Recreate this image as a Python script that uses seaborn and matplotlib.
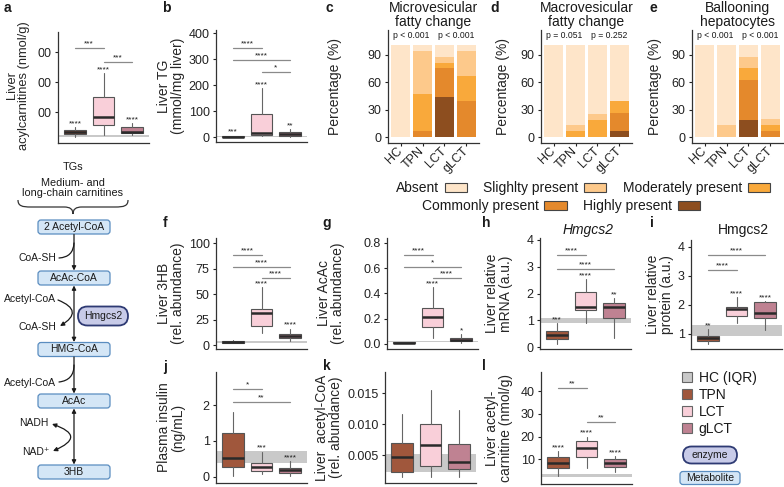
import numpy as np
import pandas as pd
import seaborn as sns
import matplotlib.pyplot as plt
from matplotlib.patches import FancyBboxPatch, FancyArrowPatch, Patch, PathPatch
from matplotlib.path import Path

sns.set_style("ticks")
plt.rcParams["font.family"] = ["Liberation Sans", "DejaVu Sans"]
plt.rcParams["axes.edgecolor"] = "#333333"
plt.rcParams["axes.linewidth"] = 0.9
plt.rcParams["text.color"] = "#1a1a1a"

# ---------------- data ----------------
groups3 = ["TPN", "LCT", "gLCT"]
group_colors = ["#A0573C", "#F9CFD9", "#BF8292"]
hc_color = "#C9C9C9"

# box stats per group: [lower whisker, Q1, median, Q3, upper whisker]
acyl_stats = [[17, 27, 33, 40, 50], [23, 57, 84, 150, 230], [23, 30, 33, 50, 63]]
acyl_hc = [17, 22]
acyl_stars = ["****", "****", "****"]
acyl_sig = [(0, 1, 313, "***"), (1, 2, 267, "***")]

tg_stats = [[0, 1, 2, 4, 6], [3, 8, 15, 88, 188], [1, 5, 11, 19, 30]]
tg_hc = [0, 4]
tg_stars = ["***", "****", "**"]
tg_sig = [(0, 1, 342, "****"), (0, 2, 296, "****"), (1, 2, 250, "*")]

hb_stats = [[1.5, 2, 3, 4, 4.5], [12, 19, 31, 35, 57], [4, 6.5, 9, 11, 16]]
hb_hc = [2, 4]
hb_stars = ["", "****", "****"]
hb_sig = [(0, 1, 88, "****"), (0, 2, 76.5, "****"), (1, 2, 65.7, "****")]

acac_stats = [[0.004, 0.006, 0.01, 0.015, 0.018], [0.047, 0.134, 0.213, 0.285, 0.45],
              [0.005, 0.02, 0.035, 0.047, 0.079]]
acac_hc = [0.015, 0.025]
acac_stars = ["", "****", "*"]
acac_sig = [(0, 1, 0.70, "****"), (0, 2, 0.61, "*"), (1, 2, 0.52, "****")]

mrna_stats = [[0.1, 0.3, 0.45, 0.6, 0.9], [0.9, 1.38, 1.51, 2.06, 2.54], [0.33, 1.08, 1.49, 1.64, 1.83]]
mrna_hc = [0.9, 1.08]
mrna_stars = ["***", "****", "**"]
mrna_sig = [(0, 1, 3.44, "****"), (0, 2, 2.92, "****")]

prot_stats = [[0.65, 0.75, 0.87, 0.93, 1.17], [1.38, 1.62, 1.87, 1.93, 2.27], [1.13, 1.55, 1.72, 2.1, 2.12]]
prot_hc = [0.93, 1.31]
prot_stars = ["**", "****", "****"]
prot_sig = [(0, 2, 3.72, "****"), (0, 1, 3.2, "****")]

ins_stats = [[0.03, 0.28, 0.53, 1.22, 1.8], [0.07, 0.17, 0.28, 0.4, 0.7], [0.02, 0.12, 0.18, 0.26, 0.43]]
ins_hc = [0.4, 0.73]
ins_stars = ["", "***", "****"]
ins_sig = [(0, 1, 2.44, "*"), (0, 2, 2.08, "**")]

acoa_stats = [[0.0015, 0.0023, 0.0047, 0.0069, 0.0116], [0.0015, 0.0032, 0.0066, 0.0100, 0.0155],
              [0.0015, 0.0027, 0.0039, 0.0068, 0.0123]]
acoa_hc = [0.0023, 0.0052]
acoa_stars = ["", "", ""]
acoa_sig = []

acar_stats = [[2.6, 6.2, 8.4, 11, 13.5], [6, 11.2, 15, 18, 20], [4.4, 6.7, 8.5, 10, 11.3]]
acar_hc = [2.2, 3.6]
acar_stars = ["****", "****", "****"]
acar_sig = [(0, 1, 41.4, "**"), (1, 2, 26.4, "**")]

# histology scores (% of animals), bottom -> top: highly, commonly, moderately, slightly, absent
groups4 = ["HC", "TPN", "LCT", "gLCT"]
levels = ["Highly present", "Commonly present", "Moderately present", "Slighlty present", "Absent"]
level_colors = ["#8D4E1F", "#E4892C", "#F9A93B", "#FDC98B", "#FEE5C9"]

micro_highly = [0, 0, 43.75, 0]
micro_commonly = [0, 6.67, 31.25, 40]
micro_moderately = [0, 40, 6.25, 26.67]
micro_slightly = [0, 46.67, 6.25, 26.67]
micro_absent = [100, 6.67, 12.5, 6.67]
micro_p = ["p < 0.001", "p < 0.001"]

macro_highly = [0, 0, 0, 6.67]
macro_commonly = [0, 0, 0, 20]
macro_moderately = [0, 6.67, 18.75, 13.33]
macro_slightly = [0, 6.67, 6.25, 0]
macro_absent = [100, 86.67, 75, 60]
macro_p = ["p = 0.051", "p = 0.252"]

ball_highly = [0, 0, 18.75, 0]
ball_commonly = [0, 0, 43.75, 6.67]
ball_moderately = [0, 0, 12.5, 6.67]
ball_slightly = [0, 13.33, 12.5, 6.67]
ball_absent = [100, 86.67, 12.5, 80]
ball_p = ["p < 0.001", "p < 0.001"]

# ---------------- figure ----------------
W, H = 784, 487
fig = plt.figure(figsize=(W / 100, H / 100), dpi=100)


def add_ax(x0, y0, x1, y1):
    return fig.add_axes([x0 / W, 1 - y1 / H, (x1 - x0) / W, (y1 - y0) / H])


def finish(ax, x0, x1, label_right, label, ly=0.5, lsize=10):
    sns.despine(ax=ax)
    ax.tick_params(axis="both", length=2.5, width=0.8, pad=2, labelsize=9, colors="#222222")
    ax.set_ylabel(label, fontsize=lsize, linespacing=1.0)
    ax.yaxis.set_label_coords((label_right - x0) / (x1 - x0), ly)


def box_panel(c0, top, bottom, stats, hc, stars, sig, ylim, yticks, yticklabels, label_right, label,
              ly=0.5, lsize=10):
    x0 = c0 - 0.6 * 28.5
    x1 = x0 + 3.2 * 28.5
    ax = add_ax(x0, top, x1, bottom)
    ax.axhspan(hc[0], hc[1], color=hc_color, lw=0, zorder=0)
    bstats = [dict(whislo=s[0], q1=s[1], med=s[2], q3=s[3], whishi=s[4]) for s in stats]
    parts = ax.bxp(bstats, positions=range(3), widths=0.75, patch_artist=True, showfliers=False,
                   showcaps=False, boxprops=dict(edgecolor="#555555", lw=0.8),
                   whiskerprops=dict(color="#666666", lw=0.8),
                   medianprops=dict(color="#2a2a2a", lw=1.8))
    for patch, col in zip(parts["boxes"], group_colors):
        patch.set_facecolor(col)
    for i, (s, st) in enumerate(zip(stats, stars)):
        if st:
            ax.annotate(st, (i, s[4]), xytext=(0, 0), textcoords="offset points",
                        ha="center", va="bottom", fontsize=6)
    for a, b, y, lab in sig:
        ax.plot([a, b], [y, y], color="#8a8a8a", lw=0.9)
        ax.annotate(lab, ((a + b) / 2, y), xytext=(0, 0.5), textcoords="offset points",
                    ha="center", va="bottom", fontsize=6)
    ax.set_xlim(-0.6, 2.6)
    ax.set_ylim(ylim)
    ax.set_xticks([])
    ax.set_yticks(yticks)
    if yticklabels is not None:
        ax.set_yticklabels(yticklabels)
    finish(ax, x0, x1, label_right, label, ly, lsize)
    return ax


def bar_panel(x0, parts, pvals, title, label_right):
    x1 = x0 + 91
    ax = add_ax(x0, 30, x1, 143)
    cum = np.cumsum(np.array(parts), axis=0)
    for k in reversed(range(len(levels))):
        df = pd.DataFrame({"group": groups4, "value": cum[k]})
        sns.barplot(data=df, x="group", y="value", color=level_colors[k], saturation=1,
                    width=0.9, errorbar=None, linewidth=0, ax=ax)
    ax.set_xlim(-0.57, 3.57)
    ax.set_ylim(-6, 116.6)
    ax.set_yticks([0, 30, 60, 90])
    ax.set_xticks(range(4))
    ax.set_xticklabels(groups4, rotation=45, ha="right", va="center", rotation_mode="anchor")
    ax.set_xlabel("")
    ax.text(0.5, 111, pvals[0], ha="center", va="center", fontsize=6.2)
    ax.text(2.55, 111, pvals[1], ha="center", va="center", fontsize=6.2)
    ax.set_title(title, fontsize=10, linespacing=0.95, pad=3)
    finish(ax, x0, x1, label_right, "Percentage (%)")
    return ax


# pathway / annotation layer (pixel coordinates)
ov = fig.add_axes([0, 0, 1, 1])
ov.set_xlim(0, W)
ov.set_ylim(H, 0)
ov.axis("off")

# top row
box_panel(75, 32, 143, acyl_stats, acyl_hc, acyl_stars, acyl_sig, (-3.3, 367), [100, 200, 300],
          ["00", "00", "00"], 30, "Liver\nacylcarnitines (nmol/g)", ly=0.52, lsize=9.3)
box_panel(233, 30, 142, tg_stats, tg_hc, tg_stars, tg_sig, (-19, 412), [0, 100, 200, 300, 400],
          None, 185, "Liver TG\n(mmol/mg liver)")

bar_panel(388, [micro_highly, micro_commonly, micro_moderately, micro_slightly, micro_absent],
          micro_p, "Microvesicular\nfatty change", 342)
bar_panel(541, [macro_highly, macro_commonly, macro_moderately, macro_slightly, macro_absent],
          macro_p, "Macrovesicular\nfatty change", 510)
bar_panel(692, [ball_highly, ball_commonly, ball_moderately, ball_slightly, ball_absent],
          ball_p, "Ballooning\nhepatocytes", 662)

# middle row
box_panel(233, 238, 349, hb_stats, hb_hc, hb_stars, hb_sig, (-3.9, 105), [0, 25, 50, 75, 100],
          None, 185, "Liver 3HB\n(rel. abundance)")
box_panel(404, 238, 349, acac_stats, acac_hc, acac_stars, acac_sig, (-0.04, 0.838),
          [0, 0.2, 0.4, 0.6, 0.8], ["0.0", "0.2", "0.4", "0.6", "0.8"], 345, "Liver AcAc\n(rel. abundance)")
box_panel(557, 238, 349, mrna_stats, mrna_hc, mrna_stars, mrna_sig, (-0.07, 4.07), [0, 1, 2, 3, 4],
          None, 513, "Liver relative\nmRNA (a.u.)")
box_panel(708, 240, 349, prot_stats, prot_hc, prot_stars, prot_sig, (0.48, 4.24), [1, 2, 3, 4],
          None, 674, "Liver relative\nprotein (a.u.)")

# bottom row
box_panel(233, 372, 483, ins_stats, ins_hc, ins_stars, ins_sig, (-0.17, 2.92), [0, 1, 2],
          None, 185, "Plasma insulin\n(ng/mL)")
box_panel(402, 372, 483, acoa_stats, acoa_hc, acoa_stars, acoa_sig, (0.00048, 0.0184),
          [0.005, 0.010, 0.015], ["0.005", "0.010", "0.015"], 343, "Liver  acetyl-CoA\n(rel. abundance)")
box_panel(558, 372, 484, acar_stats, acar_hc, acar_stars, acar_sig, (-0.9, 48.5), [10, 20, 30, 40],
          None, 513, "Liver acetyl-\ncarnitine (nmol/g)")

# panel letters and titles
for letter, (x, y) in zip("abcdefghijkl", [(4, 8), (162, 8), (325, 8), (490, 8), (650, 8), (163, 223),
                                           (322, 223), (482, 223), (650, 223), (163, 367),
                                           (323, 366), (482, 366)]):
    fig.text(x / W, 1 - y / H, letter, fontsize=10, fontweight="bold", va="center", ha="left")
fig.text(588 / W, 1 - 230 / H, "Hmgcs2", fontsize=10, style="italic", ha="center", va="center")
fig.text(743 / W, 1 - 230 / H, "Hmgcs2", fontsize=10, ha="center", va="center")

# histology legend (two centred rows)
lev_handles = [Patch(facecolor=c, edgecolor="#444444", lw=0.8) for c in level_colors]
row1 = [4, 3, 2]
row2 = [1, 0]
fig.legend([lev_handles[i] for i in row1], [levels[i] for i in row1], loc="center",
           bbox_to_anchor=(583 / W, 1 - 188 / H), ncol=3, frameon=False, markerfirst=False,
           fontsize=10, handlelength=1.6, handleheight=0.6, columnspacing=1.2, handletextpad=0.4,
           borderpad=0)
fig.legend([lev_handles[i] for i in row2], [levels[i] for i in row2], loc="center",
           bbox_to_anchor=(561 / W, 1 - 206 / H), ncol=2, frameon=False, markerfirst=False,
           fontsize=10, handlelength=1.6, handleheight=0.6, columnspacing=1.2, handletextpad=0.4,
           borderpad=0)

# group legend
grp_handles = [Patch(facecolor=c, edgecolor="#666666", lw=0.8) for c in [hc_color] + group_colors]
fig.legend(grp_handles, ["HC (IQR)"] + groups3, loc="upper left", bbox_to_anchor=(682 / W, 1 - 371 / H),
           frameon=False, fontsize=10, handlelength=0.7, handleheight=0.7, labelspacing=0.22,
           handletextpad=0.5, borderpad=0, borderaxespad=0)


def met_box(cx, cy, text, w=72, h=14):
    ov.add_patch(FancyBboxPatch((cx - w / 2, cy - h / 2), w, h, boxstyle="round,pad=0,rounding_size=3",
                                fc="#D4E6F6", ec="#5A8DC0", lw=0.9))
    ov.text(cx, cy, text, ha="center", va="center", fontsize=7.5)


def enzyme(cx, cy, text, w=50, h=19):
    ov.add_patch(FancyBboxPatch((cx - w / 2, cy - h / 2), w, h,
                                boxstyle="round,pad=0,rounding_size=%.1f" % (h / 2),
                                fc="#C8CBE8", ec="#2E3A73", lw=1.3))
    ov.text(cx, cy, text, ha="center", va="center", fontsize=7.5)


def arrow(a, b, style, rad=0.0):
    ov.add_patch(FancyArrowPatch(a, b, arrowstyle=style, connectionstyle="arc3,rad=%s" % rad,
                                 mutation_scale=6, lw=0.9, color="#1a1a1a", shrinkA=0, shrinkB=0))


# pathway
ov.text(73, 167, "TGs", ha="center", va="center", fontsize=7.8)
ov.text(73, 188, "Medium- and\nlong-chain carnitines", ha="center", va="center", fontsize=7.8,
        linespacing=1.05)
brace = Path([(18, 200), (18, 206), (22, 207), (31, 207), (64, 207), (70, 207), (73, 209), (73, 214),
              (73, 209), (76, 207), (82, 207), (115, 207), (124, 207), (128, 206), (128, 200)],
             [Path.MOVETO, Path.CURVE4, Path.CURVE4, Path.CURVE4, Path.LINETO,
              Path.CURVE4, Path.CURVE4, Path.CURVE4, Path.CURVE4, Path.CURVE4, Path.CURVE4,
              Path.LINETO, Path.CURVE4, Path.CURVE4, Path.CURVE4])
ov.add_patch(PathPatch(brace, fc="none", ec="#333333", lw=0.9))

met_box(74, 227, "2 Acetyl-CoA")
met_box(74, 278, "AcAc-CoA")
met_box(74, 349.5, "HMG-CoA")
met_box(74, 401, "AcAc")
met_box(74, 472, "3HB")
enzyme(103, 316, "Hmgcs2")

arrow((74, 234.5), (74, 270.5), "-|>")
arrow((74, 285.5), (74, 342), "<|-|>")
arrow((74, 357), (74, 393.5), "-|>")
arrow((74, 408.5), (74, 464.5), "<|-|>")

arrow((74, 243), (59, 258), "-", rad=-0.45)
ov.text(56, 258, "CoA-SH", ha="right", va="center", fontsize=7.5)
ov.text(56, 299, "Acetyl-CoA", ha="right", va="center", fontsize=7.5)
arrow((58, 300), (60, 326), "-|>", rad=-1.0)
ov.text(56, 327, "CoA-SH", ha="right", va="center", fontsize=7.5)
arrow((74, 365), (59, 382), "-", rad=-0.45)
ov.text(56, 383, "Acetyl-CoA", ha="right", va="center", fontsize=7.5)
ov.text(49, 423, "NADH", ha="right", va="center", fontsize=7.5)
ov.text(50, 452, "NAD⁺", ha="right", va="center", fontsize=7.5)
arrow((52, 424), (53, 451), "<|-|>", rad=-1.3)

# key
enzyme(710, 455, "enzyme", w=54, h=17)
met_box(710, 478, "Metabolite", w=60, h=13)

fig.savefig("out.png", dpi=100)
